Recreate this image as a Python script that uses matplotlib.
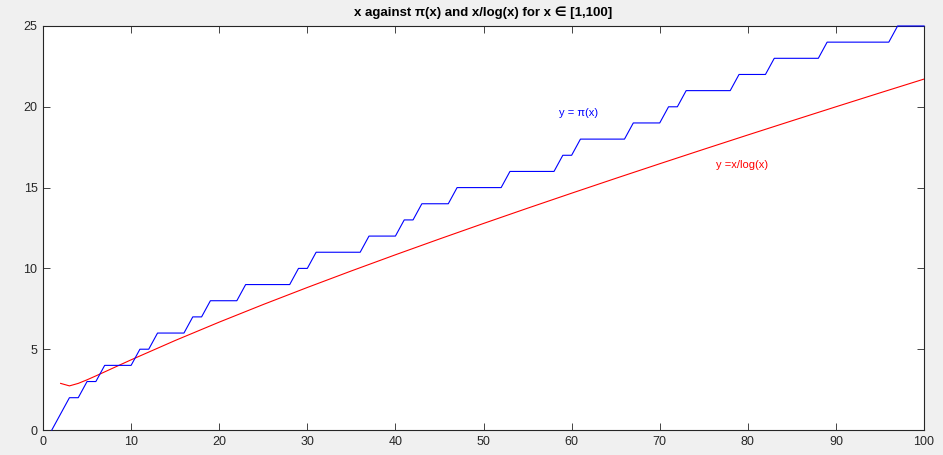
import matplotlib
matplotlib.use("Agg")
import matplotlib.pyplot as plt

plt.rcParams['font.family'] = ['Liberation Sans', 'DejaVu Sans']

# pi(x) sampled at integer x = 1..100
x_pi = list(range(1, 101))
pi_vals = [0, 1, 2, 2, 3, 3, 4, 4, 4, 4,
           5, 5, 6, 6, 6, 6, 7, 7, 8, 8,
           8, 8, 9, 9, 9, 9, 9, 9, 10, 10,
           11, 11, 11, 11, 11, 11, 12, 12, 12, 12,
           13, 13, 14, 14, 14, 14, 15, 15, 15, 15,
           15, 15, 16, 16, 16, 16, 16, 16, 17, 17,
           18, 18, 18, 18, 18, 18, 19, 19, 19, 19,
           20, 20, 21, 21, 21, 21, 21, 21, 22, 22,
           22, 22, 23, 23, 23, 23, 23, 23, 24, 24,
           24, 24, 24, 24, 24, 24, 25, 25, 25, 25]

# x/log(x) read at selected x values
x_li = [2, 3, 4, 5, 6, 7, 8, 9, 10, 15, 20, 25, 30, 35, 40, 45, 50,
        55, 60, 65, 70, 75, 80, 85, 90, 95, 100]
li_vals = [2.885, 2.731, 2.885, 3.107, 3.349, 3.597, 3.847, 4.096, 4.343,
           5.539, 6.676, 7.767, 8.820, 9.844, 10.843, 11.821, 12.781,
           13.725, 14.654, 15.571, 16.476, 17.371, 18.256, 19.132, 20.001,
           20.862, 21.715]

fig = plt.figure(figsize=(9.43, 4.55), dpi=100, facecolor='#F0F0F0')
ax = fig.add_axes([0.0456, 0.0549, 0.9343, 0.888])
ax.set_facecolor('white')

ax.plot(x_pi, pi_vals, color='#0000FF', lw=0.8, zorder=5, clip_on=False)
ax.plot(x_li, li_vals, color='#FF0000', lw=0.8, zorder=4)

ax.text(58.6, 19.6, 'y = π(x)', color='#0000FF', fontsize=8, va='center', ha='left')
ax.text(76.4, 16.4, 'y =x/log(x)', color='#FF0000', fontsize=8, va='center', ha='left')

ax.set_xlim(0, 100)
ax.set_ylim(0, 25)
ax.set_xticks(range(0, 101, 10))
ax.set_yticks(range(0, 26, 5))
ax.tick_params(direction='in', top=True, right=True, length=5, width=0.6,
               colors='#262626', labelsize=9, labelcolor='#262626', pad=4)
for s in ax.spines.values():
    s.set_color('#262626')
    s.set_linewidth(0.8)

ax.set_title('x against π(x) and x/log(x) for x ∈ [1,100]', fontsize=9.5,
             fontweight='bold', color='black', pad=7)

fig.savefig('out.png', dpi=100, facecolor=fig.get_facecolor())
